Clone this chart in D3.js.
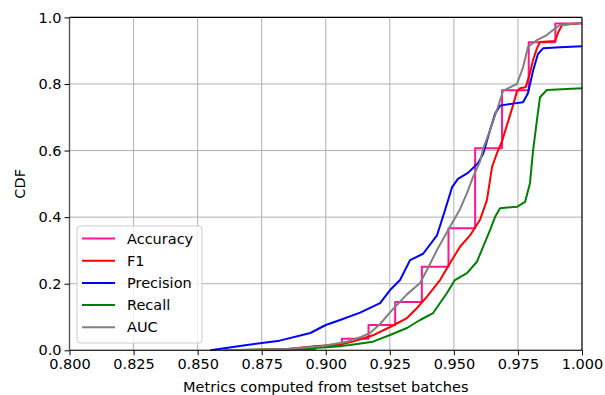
<!DOCTYPE html>
<html>
<head>
<meta charset="utf-8">
<script src="https://cdn.jsdelivr.net/npm/d3@7"></script>
<style>
  body { margin: 0; background: #fff; }
  svg { display: block; font-family: "DejaVu Sans", sans-serif; }
  .grid line { stroke: #b0b0b0; stroke-width: 1; }
</style>
</head>
<body>
<svg id="chart" width="605" height="395"></svg>
<script>
// x ticks and y ticks
const xTicks = [0.800, 0.825, 0.850, 0.875, 0.900, 0.925, 0.950, 0.975, 1.000];
const yTicks = [0.0, 0.2, 0.4, 0.6, 0.8, 1.0];

// accuracy is k/96 so it is a step cdf
const accX = [0.875, 0.8854, 0.8958, 0.9063, 0.9167, 0.9271, 0.9375, 0.9479, 0.9583, 0.9688, 0.9792, 0.9896, 1.0];
const accY = [0.0, 0.003, 0.012, 0.035, 0.076, 0.145, 0.251, 0.367, 0.607, 0.781, 0.925, 0.982, 0.982];

const f1 = [[0.865,0],[0.885,0.004],[0.8966,0.013],[0.9056,0.017],[0.9106,0.026],[0.9184,0.045],[0.9251,0.07],
  [0.9317,0.097],[0.9356,0.127],[0.9395,0.161],[0.9446,0.211],[0.9485,0.262],[0.9524,0.311],[0.9563,0.345],
  [0.9602,0.392],[0.9629,0.451],[0.9649,0.551],[0.9668,0.592],[0.9688,0.628],[0.9707,0.676],[0.9727,0.726],
  [0.9746,0.777],[0.9758,0.787],[0.978,0.79],[0.9797,0.833],[0.9809,0.872],[0.9824,0.907],[0.9836,0.926],
  [0.9895,0.929],[0.9906,0.953],[0.9922,0.977],[1.0,0.983]];

const precision = [[0.855,0],[0.8665,0.013],[0.882,0.029],[0.894,0.052],[0.900,0.076],[0.9056,0.091],[0.9134,0.113],
  [0.9212,0.142],[0.9251,0.181],[0.929,0.211],[0.9329,0.271],[0.938,0.29],[0.9434,0.345],[0.9465,0.42],
  [0.9493,0.49],[0.9516,0.515],[0.9555,0.533],[0.9594,0.562],[0.9614,0.59],[0.9641,0.661],[0.9661,0.711],
  [0.968,0.735],[0.973,0.741],[0.977,0.745],[0.9789,0.772],[0.9809,0.84],[0.9828,0.89],[0.9848,0.907],
  [0.9914,0.91],[1.0,0.913]];

const recall = [[0.86,0],[0.89,0.004],[0.9017,0.01],[0.9095,0.016],[0.9184,0.026],[0.9251,0.046],[0.9317,0.067],
  [0.9368,0.091],[0.9419,0.112],[0.9446,0.142],[0.9473,0.172],[0.9504,0.211],[0.9551,0.232],[0.959,0.266],
  [0.9614,0.311],[0.9641,0.361],[0.9661,0.401],[0.968,0.427],[0.9746,0.431],[0.9778,0.446],[0.9797,0.502],
  [0.9809,0.6],[0.9824,0.691],[0.9836,0.76],[0.9863,0.782],[1.0,0.787]];

const auc = [[0.86,0],[0.885,0.004],[0.898,0.012],[0.9083,0.026],[0.9134,0.039],[0.9173,0.052],[0.9212,0.079],
  [0.9251,0.114],[0.927,0.13],[0.9317,0.168],[0.9368,0.202],[0.9395,0.241],[0.9434,0.301],[0.9485,0.371],
  [0.9524,0.424],[0.9551,0.472],[0.9575,0.521],[0.9602,0.567],[0.9614,0.605],[0.9641,0.661],[0.9668,0.721],
  [0.9692,0.779],[0.9711,0.787],[0.9746,0.80],[0.977,0.85],[0.9789,0.911],[0.9824,0.932],[0.9863,0.947],
  [0.9887,0.962],[0.9914,0.977],[1.0,0.984]];

const names = ["Accuracy", "F1", "Precision", "Recall", "AUC"];
const colors = ["#ff1493", "#ff0000", "#0000ff", "#008000", "#808080"];

const margin = { top: 17.4, right: 23, bottom: 44.7, left: 69.5 };
const W = 605, H = 395;
const width = W - margin.left - margin.right;
const height = H - margin.top - margin.bottom;

const svg = d3.select("#chart");
const g = svg.append("g").attr("transform", "translate(" + margin.left + "," + margin.top + ")");

const x = d3.scaleLinear().domain([0.8, 1.0]).range([0, width]);
const y = d3.scaleLinear().domain([0, 1]).range([height, 0]);

// grid
g.append("g").attr("class", "grid")
  .selectAll("line").data(xTicks).enter().append("line")
  .attr("x1", d => x(d)).attr("x2", d => x(d)).attr("y1", 0).attr("y2", height);
g.append("g").attr("class", "grid")
  .selectAll("line").data(yTicks).enter().append("line")
  .attr("x1", 0).attr("x2", width).attr("y1", d => y(d)).attr("y2", d => y(d));

g.append("clipPath").attr("id", "clip").append("rect")
  .attr("x", -1).attr("y", -1).attr("width", width + 2).attr("height", height + 2);

const plot = g.append("g").attr("clip-path", "url(#clip)");

const line = d3.line().x(d => x(d[0])).y(d => y(d[1]));
const stepLine = d3.line().x(d => x(d[0])).y(d => y(d[1])).curve(d3.curveStepAfter);

const series = [
  { pts: accX.map((v, i) => [v, accY[i]]), gen: stepLine },
  { pts: f1, gen: line },
  { pts: precision, gen: line },
  { pts: recall, gen: line },
  { pts: auc, gen: line }
];

series.forEach((s, i) => {
  plot.append("path")
    .datum(s.pts)
    .attr("d", s.gen)
    .attr("fill", "none")
    .attr("stroke", colors[i])
    .attr("stroke-width", 2)
    .attr("stroke-linejoin", "round");
});

// spines
g.append("line").attr("x1", 0).attr("x2", width).attr("y1", 0).attr("y2", 0).attr("stroke", "#000").attr("stroke-width", 1.1);
g.append("line").attr("x1", 0).attr("x2", width).attr("y1", height).attr("y2", height).attr("stroke", "#000").attr("stroke-width", 1.1);
g.append("line").attr("x1", width).attr("x2", width).attr("y1", 0).attr("y2", height).attr("stroke", "#000").attr("stroke-width", 1.1);
g.append("line").attr("x1", 0).attr("x2", 0).attr("y1", 0).attr("y2", height).attr("stroke", "#555").attr("stroke-width", 1.4);

// axes
const xAxis = g.append("g").attr("transform", "translate(0," + height + ")")
  .call(d3.axisBottom(x).tickValues(xTicks).tickFormat(d3.format(".3f")).tickSize(5).tickSizeOuter(0));
const yAxis = g.append("g")
  .call(d3.axisLeft(y).tickValues(yTicks).tickFormat(d3.format(".1f")).tickSize(5).tickSizeOuter(0));
[xAxis, yAxis].forEach(a => {
  a.select(".domain").remove();
  a.selectAll("text").attr("font-family", "DejaVu Sans").attr("font-size", "14.5px").attr("fill", "#000");
  a.selectAll("line").attr("stroke", "#000").attr("stroke-width", 1);
});
xAxis.selectAll("text").attr("dy", "0.71em").attr("y", 8);
yAxis.selectAll("text").attr("x", -8);

svg.append("text")
  .attr("x", margin.left + width / 2).attr("y", 392)
  .attr("text-anchor", "middle").attr("font-size", "14.5px")
  .text("Metrics computed from testset batches");
svg.append("text")
  .attr("transform", "translate(25," + (margin.top + height / 2) + ") rotate(-90)")
  .attr("text-anchor", "middle").attr("font-size", "14.5px")
  .text("CDF");

// legend
const leg = svg.append("g").attr("transform", "translate(77,226)");
leg.append("rect").attr("width", 125).attr("height", 117).attr("rx", 3)
  .attr("fill", "#fff").attr("fill-opacity", 0.8).attr("stroke", "#cccccc").attr("stroke-width", 1);
names.forEach((n, i) => {
  const yy = 12.5 + i * 22.2;
  leg.append("line").attr("x1", 5).attr("x2", 38).attr("y1", yy).attr("y2", yy)
    .attr("stroke", colors[i]).attr("stroke-width", 2);
  leg.append("text").attr("x", 50).attr("y", yy).attr("dy", "0.35em")
    .attr("font-size", "14.5px").text(n);
});
</script>
</body>
</html>
